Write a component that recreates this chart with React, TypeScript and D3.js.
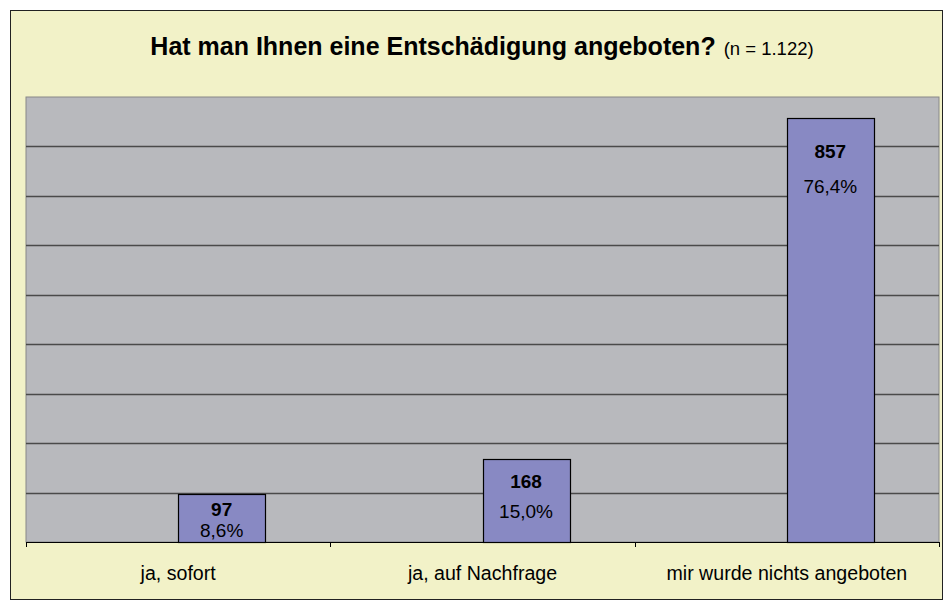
import React from "react";
import * as d3 from "d3";

const categories = ["ja, sofort", "ja, auf Nachfrage", "mir wurde nichts angeboten"];
const counts = [97, 168, 857];
const shares = ["8,6%", "15,0%", "76,4%"];
const yTicks = [0, 100, 200, 300, 400, 500, 600, 700, 800, 900];

// label offsets below bar top (count, percent), as placed in the original
const labelDy = [
  [22, 43],
  [29, 59],
  [40, 75],
];

const W = 944, H = 600;
const plot = { left: 26, top: 97, right: 939, bottom: 542 };
const font = "'Liberation Sans', Arial, sans-serif";

const App = () => {
  const x = d3.scaleBand().domain(categories).range([plot.left, plot.right]);
  const y = d3.scaleLinear().domain([0, 900]).range([plot.bottom, plot.top]);
  const barW = 87;

  return (
    <svg width={W} height={H} style={{ position: "absolute", left: 0, top: 0 }} fontFamily={font}>
      <rect x={10.5} y={10.5} width={W - 12} height={H - 11} fill="#F2F2C8" stroke="#222" strokeWidth={1} />
      <text x={482} y={55} textAnchor="middle" fontSize={25}>
        <tspan fontWeight="bold">Hat man Ihnen eine Entschädigung angeboten?</tspan>
        <tspan fontSize={18.5} dx={8}>(n = 1.122)</tspan>
      </text>
      <rect x={plot.left} y={plot.top} width={plot.right - plot.left} height={plot.bottom - plot.top}
        fill="#B8B9BD" stroke="#888" strokeWidth={1} />
      {yTicks.slice(1, -1).map(t => (
        <line key={t} x1={plot.left} x2={plot.right} y1={Math.round(y(t)) + 0.5} y2={Math.round(y(t)) + 0.5}
          stroke="#4a4a4a" strokeWidth={1.3} />
      ))}
      <line x1={plot.left} x2={plot.right} y1={plot.bottom + 0.5} y2={plot.bottom + 0.5} stroke="#000" />
      {[0, 1, 2, 3].map(i => {
        const xx = Math.round(plot.left + i * x.step()) + 0.5;
        return <line key={i} x1={xx} x2={xx} y1={plot.bottom} y2={plot.bottom + 5} stroke="#000" />;
      })}
      {categories.map((c, i) => {
        const cx = (x(c) as number) + x.bandwidth() / 2;
        const top = y(counts[i]);
        return (
          <g key={c}>
            <rect x={Math.round(cx) + 0.5} y={Math.round(top) + 0.5} width={barW} height={plot.bottom - Math.round(top)}
              fill="#8889C3" stroke="#000" strokeWidth={1.2} />
            <text x={cx + barW / 2} y={top + labelDy[i][0]} textAnchor="middle" fontSize={19} fontWeight="bold">{counts[i]}</text>
            <text x={cx + barW / 2} y={top + labelDy[i][1]} textAnchor="middle" fontSize={19}>{shares[i]}</text>
            <text x={cx} y={580} textAnchor="middle" fontSize={19.6}>{c}</text>
          </g>
        );
      })}
    </svg>
  );
};

export default App;
